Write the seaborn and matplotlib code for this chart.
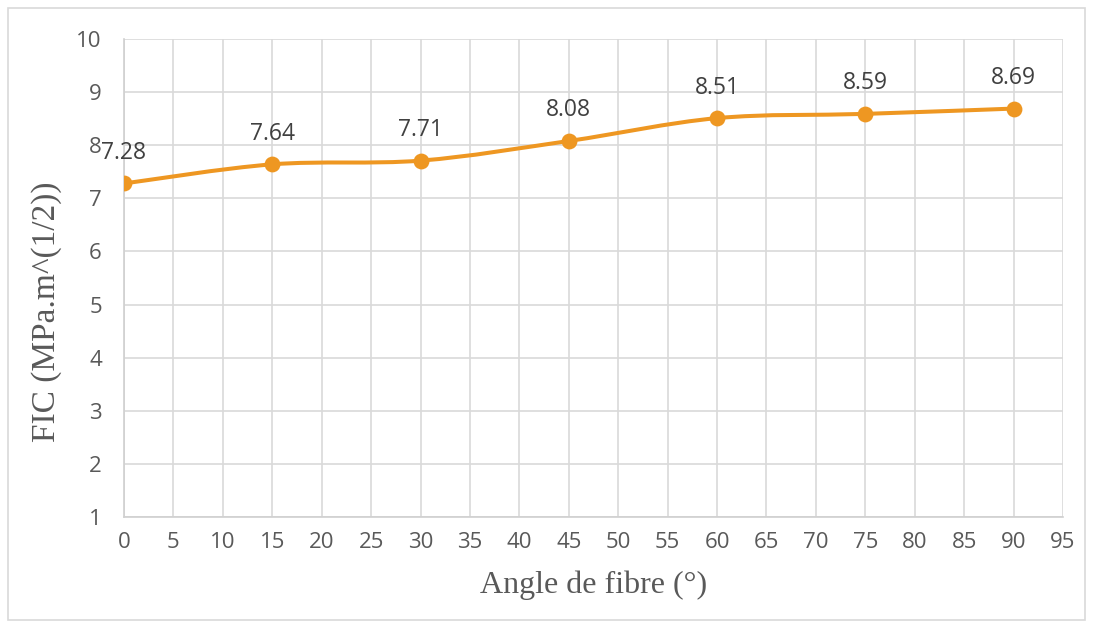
import matplotlib
matplotlib.use("Agg")
import matplotlib.pyplot as plt
import seaborn as sns
import pandas as pd
import numpy as np
from matplotlib.patches import Rectangle, PathPatch
from matplotlib.path import Path

angles = [0, 15, 30, 45, 60, 75, 90]
fic = [7.28, 7.64, 7.71, 8.08, 8.51, 8.59, 8.69]
xticks = list(range(0, 100, 5))
yticks = list(range(1, 11))

df = pd.DataFrame({"angle": angles, "fic": fic})

sns.set_theme(style="white")
plt.rcParams['font.family'] = ['Open Sans', 'DejaVu Sans']

fig = plt.figure(figsize=(10.96, 6.24), dpi=100)
ax = fig.add_axes([124/1096, 1 - 517/624, (1063-124)/1096, (517-39)/624])

color = "#EE9722"
# markers via seaborn
sns.scatterplot(data=df, x="angle", y="fic", ax=ax, color=color, s=130,
                edgecolor=color, linewidth=0, zorder=4)

# smoothed connecting line (Excel-style smoothing, Bezier through the data points)
pts = np.column_stack([angles, fic]).astype(float)
verts = [tuple(pts[0])]
codes = [Path.MOVETO]
n = len(pts)
for i in range(n - 1):
    p0 = pts[i - 1] if i > 0 else pts[i]
    p1 = pts[i]
    p2 = pts[i + 1]
    p3 = pts[i + 2] if i + 2 < n else pts[i + 1]
    c1 = p1 + (p2 - p0) / 6.0
    c2 = p2 - (p3 - p1) / 6.0
    verts += [tuple(c1), tuple(c2), tuple(p2)]
    codes += [Path.CURVE4] * 3
ax.add_patch(PathPatch(Path(verts, codes), facecolor="none", edgecolor=color,
                       linewidth=2.9, zorder=3, capstyle="round"))

for a, v in zip(angles, fic):
    ax.annotate(f"{v:.2f}", (a, v), xytext=(0, 22), textcoords="offset points",
                ha="center", va="center", fontsize=16.5, color="#404040")

ax.set_xlim(0, 95)
ax.set_ylim(1, 10)
ax.set_xticks(xticks)
ax.set_yticks(yticks)
ax.grid(True, color="#d9d9d9", linewidth=1.2)
ax.set_axisbelow(True)
for s in ["top", "right"]:
    ax.spines[s].set_visible(False)
for s in ["left", "bottom"]:
    ax.spines[s].set_color("#d0d0d0")
    ax.spines[s].set_linewidth(1.2)
ax.tick_params(axis="both", labelsize=16, colors="#595959", length=0)
ax.tick_params(axis="x", pad=11)
ax.tick_params(axis="y", pad=16)

ax.set_xlabel("Angle de fibre (°)", family="Liberation Serif", fontsize=23, color="#595959")
ax.set_ylabel("FIC (MPa.m^(1/2))", family="Liberation Serif", fontsize=24, color="#595959")
ax.xaxis.set_label_coords(0.5, -(585 - 517) / 478)
ax.yaxis.set_label_coords((47 - 124) / 939, (517 - 312) / 478)
ax.xaxis.label.set_va("center")
ax.yaxis.label.set_va("center")

fig.patches.append(Rectangle((8/1096, 4/624), (1085-8)/1096, (616-4)/624, transform=fig.transFigure,
                             fill=False, edgecolor="#d9d9d9", linewidth=1.2))

fig.savefig("out.png", dpi=100)
